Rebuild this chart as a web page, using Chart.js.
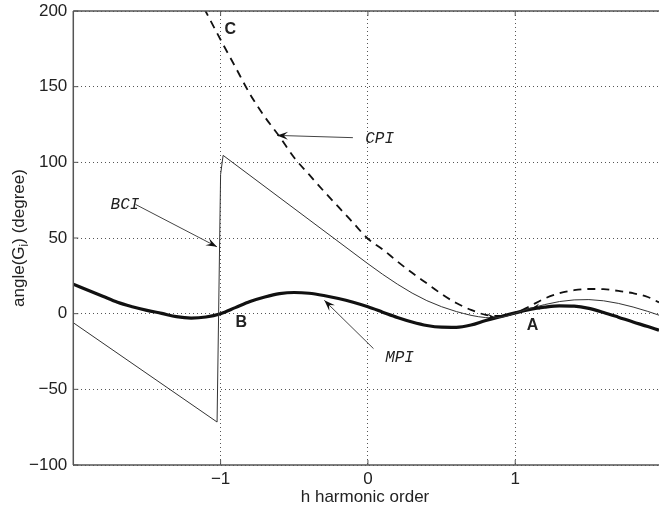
<!DOCTYPE html>
<html>
<head>
<meta charset="utf-8">
<script src="https://cdn.jsdelivr.net/npm/chart.js@4"></script>
<style>
html,body{margin:0;padding:0;background:#fff;}
canvas{display:block;}
</style>
</head>
<body>
<canvas id="c" width="659" height="511"></canvas>
<script>
// ---- data ----
const xTicks = [-1, 0, 1];
const yTicks = [-100, -50, 0, 50, 100, 150, 200];

const mpiX = [-2.0,-1.9,-1.8,-1.7,-1.6,-1.5,-1.4,-1.3,-1.2,-1.1,-1.0,-0.9,-0.8,-0.7,-0.6,-0.5,-0.4,-0.3,-0.2,-0.1,0.0,0.1,0.2,0.3,0.4,0.5,0.6,0.7,0.8,0.9,1.0,1.1,1.2,1.3,1.4,1.5,1.6,1.7,1.8,1.9,1.976];
const mpiY = [19.5,15.5,11.5,7.5,4.6,2.2,0.2,-2.0,-2.9,-2.2,0.0,4.0,8.0,11.0,13.2,14.0,13.5,12.0,10.0,7.5,4.5,1.0,-2.5,-5.5,-7.8,-8.9,-9.0,-7.5,-4.5,-2.0,0.5,2.8,4.3,5.2,5.0,3.5,0.8,-2.3,-5.5,-8.5,-11.0];

const bciX = [-2.0,-1.024,-1.0,-0.983,0.0,0.1,0.2,0.3,0.4,0.5,0.6,0.65,0.7,0.75,0.8,0.85,0.9,0.95,1.0,1.05,1.1,1.2,1.3,1.4,1.5,1.6,1.7,1.8,1.9,1.976];
const bciY = [-6.0,-71.6,92.0,104.6,33.0,26.0,19.5,13.6,8.6,4.6,1.4,0.1,-1.1,-2.0,-2.6,-2.8,-2.5,-1.4,0.3,1.9,3.5,6.0,8.0,9.1,9.3,8.5,6.8,4.4,1.5,-1.0];

const cpiX = [-1.2,-1.1,-1.0,-0.9,-0.8,-0.7,-0.6,-0.5,-0.4,-0.3,-0.2,-0.1,0.0,0.1,0.2,0.3,0.4,0.5,0.6,0.7,0.8,0.9,1.0,1.1,1.2,1.3,1.4,1.5,1.6,1.7,1.8,1.9,1.976];
const cpiY = [218,199.5,181,163,145,130,117,103,92,81,70.5,60,49.5,42.5,34.5,27,20,13,7,2.5,-0.8,-1.5,0.3,5,10,13.5,15.5,16.3,16.2,15,13.5,11,7.5];

const toPts = (xs, ys) => xs.map((x, i) => ({x: x, y: ys[i]}));

// ---- annotation text and arrows (data coordinates) ----
const labels = [
  {text: 'C', x: -0.934, y: 187.9, font: 'bold 16px "Liberation Sans", Arial, sans-serif', align: 'center'},
  {text: 'B', x: -0.859, y: -6.1, font: 'bold 16px "Liberation Sans", Arial, sans-serif', align: 'center'},
  {text: 'A', x: 1.117, y: -8.1, font: 'bold 16px "Liberation Sans", Arial, sans-serif', align: 'center'},
  {text: 'CPI', x: -0.018, y: 115.9, font: 'italic 16px "Liberation Mono", "Courier New", monospace', align: 'left'},
  {text: 'BCI', x: -1.747, y: 72.2, font: 'italic 16px "Liberation Mono", "Courier New", monospace', align: 'left'},
  {text: 'MPI', x: 0.117, y: -29.3, font: 'italic 16px "Liberation Mono", "Courier New", monospace', align: 'left'}
];
const arrows = [
  {x0: -0.102, y0: 116.3, x1: -0.617, y1: 117.8, line: true},
  {x0: -1.578, y0: 72.2, x1: -1.025, y1: 44.2, line: true},
  {x0: 0.038, y0: -23.1, x1: -0.296, y1: 8.8, line: true},
  {x0: 0.80, y0: -1.8, x1: 0.863, y1: -2.4, line: false},
  {x0: 1.20, y0: 5.5, x1: 1.114, y1: 3.5, line: false}
];

const fmt = v => (v < 0 ? '\u2212' + Math.abs(v) : String(v));

const decor = {
  id: 'decor',
  afterDraw(chart) {
    const ctx = chart.ctx;
    const ca = chart.chartArea;
    const xs = chart.scales.x, ys = chart.scales.y;
    ctx.save();
    // frame
    ctx.strokeStyle = '#555';
    ctx.lineWidth = 1.5;
    ctx.beginPath();
    ctx.moveTo(ca.left, ca.top); ctx.lineTo(ca.right + 2, ca.top);
    ctx.moveTo(ca.left, ca.top); ctx.lineTo(ca.left, ca.bottom);
    ctx.moveTo(ca.left, ca.bottom); ctx.lineTo(ca.right + 2, ca.bottom);
    ctx.stroke();
    // inward ticks
    ctx.lineWidth = 1;
    ctx.beginPath();
    yTicks.forEach(v => {
      const p = ys.getPixelForValue(v);
      ctx.moveTo(ca.left, p); ctx.lineTo(ca.left + 5, p);
    });
    xTicks.forEach(v => {
      const p = xs.getPixelForValue(v);
      ctx.moveTo(p, ca.bottom); ctx.lineTo(p, ca.bottom - 5);
      ctx.moveTo(p, ca.top); ctx.lineTo(p, ca.top + 5);
    });
    ctx.stroke();

    // axis titles
    ctx.fillStyle = '#222';
    ctx.font = '17px "Liberation Sans", Arial, sans-serif';
    ctx.textAlign = 'center';
    ctx.textBaseline = 'alphabetic';
    ctx.fillText('h harmonic order', 365, 502);

    ctx.translate(23.5, (ca.top + ca.bottom) / 2);
    ctx.rotate(-Math.PI / 2);
    const f1 = '17px "Liberation Sans", Arial, sans-serif';
    const f2 = '12px "Liberation Sans", Arial, sans-serif';
    ctx.font = f1;
    const a = 'angle(G', b = ') (degree)';
    const wa = ctx.measureText(a).width, wb = ctx.measureText(b).width;
    ctx.font = f2;
    const wi = ctx.measureText('i').width;
    let sx = -(wa + wi + wb) / 2;
    ctx.textAlign = 'left';
    ctx.font = f1; ctx.fillText(a, sx, 0); sx += wa;
    ctx.font = f2; ctx.fillText('i', sx, 4); sx += wi;
    ctx.font = f1; ctx.fillText(b, sx, 0);
    ctx.setTransform(1, 0, 0, 1, 0, 0);

    // annotation labels
    ctx.fillStyle = '#222';
    ctx.textBaseline = 'middle';
    labels.forEach(l => {
      ctx.font = l.font;
      ctx.textAlign = l.align;
      ctx.fillText(l.text, xs.getPixelForValue(l.x), ys.getPixelForValue(l.y));
    });
    // arrows
    arrows.forEach(a => {
      const x0 = xs.getPixelForValue(a.x0), y0 = ys.getPixelForValue(a.y0);
      const x1 = xs.getPixelForValue(a.x1), y1 = ys.getPixelForValue(a.y1);
      const ang = Math.atan2(y1 - y0, x1 - x0);
      if (a.line) {
        ctx.strokeStyle = '#444';
        ctx.lineWidth = 1;
        ctx.beginPath(); ctx.moveTo(x0, y0); ctx.lineTo(x1, y1); ctx.stroke();
      }
      const L = a.line ? 11 : 8, W = a.line ? 4 : 3;
      ctx.fillStyle = '#111';
      ctx.beginPath();
      ctx.moveTo(x1, y1);
      ctx.lineTo(x1 - L * Math.cos(ang) + W * Math.sin(ang), y1 - L * Math.sin(ang) - W * Math.cos(ang));
      ctx.lineTo(x1 - 0.6 * L * Math.cos(ang), y1 - 0.6 * L * Math.sin(ang));
      ctx.lineTo(x1 - L * Math.cos(ang) - W * Math.sin(ang), y1 - L * Math.sin(ang) + W * Math.cos(ang));
      ctx.closePath();
      ctx.fill();
    });
    ctx.restore();
  }
};

new Chart(document.getElementById('c'), {
  type: 'line',
  data: {
    datasets: [
      {label: 'BCI', data: toPts(bciX, bciY), borderColor: '#333', borderWidth: 1, tension: 0, pointRadius: 0, fill: false, clip: 0},
      {label: 'CPI', data: toPts(cpiX, cpiY), borderColor: '#111', borderWidth: 1.8, borderDash: [8, 6], cubicInterpolationMode: 'monotone', pointRadius: 0, fill: false, clip: 0},
      {label: 'MPI', data: toPts(mpiX, mpiY), borderColor: '#111', borderWidth: 3.2, cubicInterpolationMode: 'monotone', pointRadius: 0, fill: false, clip: 0}
    ]
  },
  options: {
    responsive: false,
    animation: false,
    devicePixelRatio: 1,
    layout: {padding: {top: 11, right: 0, bottom: 0, left: 0}},
    plugins: {legend: {display: false}, tooltip: {enabled: false}},
    scales: {
      x: {
        type: 'linear', min: -2, max: 1.976,
        afterBuildTicks: s => { s.ticks = xTicks.map(v => ({value: v})); },
        afterFit: s => { s.height = 46; s.paddingLeft = 0; s.paddingRight = 0; },
        ticks: {color: '#222', font: {family: '"Liberation Sans", Arial, sans-serif', size: 17}, padding: 4, callback: v => fmt(v), maxRotation: 0, autoSkip: false},
        grid: {color: '#555', lineWidth: 1, drawTicks: false},
        border: {display: false, dash: [1, 3]}
      },
      y: {
        type: 'linear', min: -100, max: 200,
        afterBuildTicks: s => { s.ticks = yTicks.map(v => ({value: v})); },
        afterFit: s => { s.width = 73.3; s.paddingTop = 0; s.paddingBottom = 0; },
        ticks: {color: '#222', font: {family: '"Liberation Sans", Arial, sans-serif', size: 17}, padding: 6, callback: v => fmt(v), autoSkip: false},
        grid: {color: '#555', lineWidth: 1, drawTicks: false},
        border: {display: false, dash: [1, 3]}
      }
    }
  },
  plugins: [decor]
});
</script>
</body>
</html>
